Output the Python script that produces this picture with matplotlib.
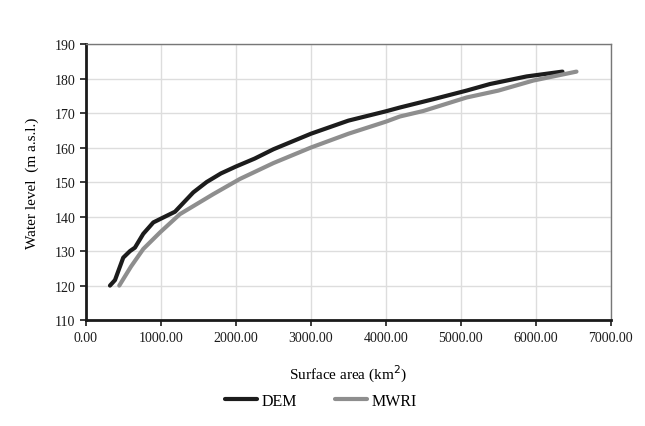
import matplotlib.pyplot as plt
from matplotlib.ticker import FormatStrFormatter

plt.rcParams['font.family'] = ['Liberation Serif', 'DejaVu Serif']

dem_area = [320, 387, 497, 587, 653, 764, 898, 1009, 1187, 1431, 1609, 1800, 2000, 2250,
            2500, 3000, 3500, 4000, 4187, 4631, 5076, 5387, 5876, 6355]
dem_level = [120, 121.6, 128.1, 130, 131, 135, 138.3, 139.5, 141.4, 147, 150, 152.5, 154.5, 156.8,
             159.5, 164, 167.8, 170.5, 171.6, 174, 176.5, 178.4, 180.6, 182]

mwri_area = [444, 600, 764, 987, 1253, 1698, 2053, 2500, 3000, 3500, 4000, 4187, 4500,
             5076, 5500, 5964, 6542]
mwri_level = [120, 125.5, 130.6, 135.4, 140.7, 146.5, 150.9, 155.5, 160, 164, 167.5, 169, 170.6,
              174.5, 176.5, 179.4, 182]

fig = plt.figure(figsize=(6.45, 4.27), dpi=100)
ax = fig.add_axes([0.1333, 0.248, 0.8137, 0.6466])

ax.plot(dem_area, dem_level, color='#1c1c1c', lw=3, label='DEM', solid_capstyle='round')
ax.plot(mwri_area, mwri_level, color='#8e8e8e', lw=3, label='MWRI', solid_capstyle='round')

ax.set_xlim(0, 7000)
ax.set_ylim(110, 190)
ax.set_xticks(range(0, 7001, 1000))
ax.set_yticks(range(110, 191, 10))
ax.xaxis.set_major_formatter(FormatStrFormatter('%.2f'))
ax.grid(True, color='#dddddd', lw=1)
ax.set_axisbelow(True)

for s in ['top', 'right']:
    ax.spines[s].set_color('#777777')
    ax.spines[s].set_linewidth(1)
for s in ['left', 'bottom']:
    ax.spines[s].set_color('#1a1a1a')
    ax.spines[s].set_linewidth(2)
ax.tick_params(direction='out', length=4, width=1.2, labelsize=10, colors='#1a1a1a')

ax.set_xlabel('Surface area (km$^2$)', fontsize=11, labelpad=14)
ax.set_ylabel('Water level  (m a.s.l.)', fontsize=11, labelpad=11)

fig.legend(handles=ax.get_lines(), loc='center', bbox_to_anchor=(321 / 645, 1 - 402 / 427),
           ncol=2, frameon=False, fontsize=11.5, handlelength=2.0, handletextpad=0.3,
           columnspacing=2.4)

fig.savefig('out.png', dpi=100)
